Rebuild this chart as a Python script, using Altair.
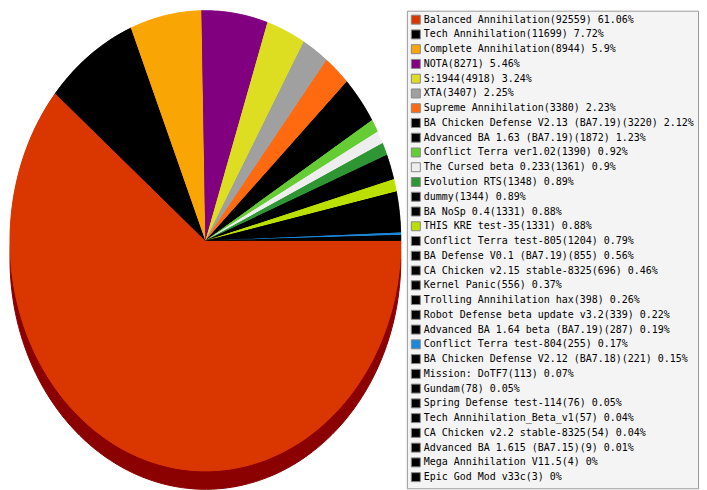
import altair as alt
import pandas as pd

names = [
    "Balanced Annihilation", "Tech Annihilation", "Complete Annihilation", "NOTA",
    "S:1944", "XTA", "Supreme Annihilation", "BA Chicken Defense V2.13 (BA7.19)",
    "Advanced BA 1.63 (BA7.19)", "Conflict Terra ver1.02", "The Cursed beta 0.233",
    "Evolution RTS", "dummy", "BA NoSp 0.4", "THIS KRE test-35", "Conflict Terra test-805",
    "BA Defense V0.1 (BA7.19)", "CA Chicken v2.15 stable-8325", "Kernel Panic",
    "Trolling Annihilation hax", "Robot Defense beta update v3.2",
    "Advanced BA 1.64 beta (BA7.19)", "Conflict Terra test-804",
    "BA Chicken Defense V2.12 (BA7.18)", "Mission: DoTF7", "Gundam",
    "Spring Defense test-114", "Tech Annihilation_Beta_v1", "CA Chicken v2.2 stable-8325",
    "Advanced BA 1.615 (BA7.15)", "Mega Annihilation V11.5", "Epic God Mod v33c",
]
values = [92559, 11699, 8944, 8271, 4918, 3407, 3380, 3220, 1872, 1390, 1361, 1348,
          1344, 1331, 1331, 1204, 855, 696, 556, 398, 339, 287, 255, 221, 113, 78, 76,
          57, 54, 9, 4, 3]
pcts = ["61.06", "7.72", "5.9", "5.46", "3.24", "2.25", "2.23", "2.12", "1.23", "0.92",
        "0.9", "0.89", "0.89", "0.88", "0.88", "0.79", "0.56", "0.46", "0.37", "0.26",
        "0.22", "0.19", "0.17", "0.15", "0.07", "0.05", "0.05", "0.04", "0.04", "0.01",
        "0", "0"]
colors = ["#D93600", "#000000", "#F9A605", "#800080", "#DDDD22", "#A0A0A0", "#FF6A10",
          "#000000", "#000000", "#66CC33", "#EEEEEE", "#2E9633", "#000000", "#000000",
          "#BBE000", "#000000", "#000000", "#000000", "#000000", "#000000", "#000000",
          "#000000", "#1B88D8", "#000000", "#000000", "#000000", "#000000", "#000000",
          "#000000", "#000000", "#000000", "#000000"]

labels = [f"{n}({v}) {p}%" for n, v, p in zip(names, values, pcts)]
df = pd.DataFrame({"idx": list(range(len(names))), "label": labels, "value": values})

N = 120
base = alt.Chart(df).transform_window(
    cum="sum(value)", sort=[alt.SortField("idx")], frame=[None, 0]
).transform_joinaggregate(
    total="sum(value)"
).transform_calculate(
    f0="(datum.cum - datum.value) / datum.total",
    f1="datum.cum / datum.total",
    pts=f"sequence(0, {N + 2})",
    slice="datum.label",
).transform_flatten(["pts"]).transform_calculate(
    a=f"datum.pts == 0 ? 0 : -2 * PI * (datum.f0 + (datum.pts - 1) / {N} * (datum.f1 - datum.f0))",
    r="datum.pts == 0 ? 0 : 1",
).transform_calculate(
    px="datum.r * cos(datum.a)",
    py="datum.r * sin(datum.a)",
).transform_calculate(
    pyd="datum.py - 0.08",
)

xs = alt.Scale(domain=[-1, 1], nice=False, zero=False)
ys = alt.Scale(domain=[-1.08, 1], nice=False, zero=False)
slice_scale = alt.Scale(domain=labels, range=colors)

depth = base.mark_line(filled=True, stroke="#8B0000", strokeWidth=1).encode(
    x=alt.X("px:Q", scale=xs, axis=None),
    y=alt.Y("pyd:Q", scale=ys, axis=None),
    order=alt.Order("pts:Q"),
    detail="label:N",
    color=alt.value("#8B0000"),
)

# underlay with strokes of each slice's own colour, to hide seams between slices
under = base.mark_line(filled=True, strokeWidth=1).encode(
    x=alt.X("px:Q", scale=xs, axis=None),
    y=alt.Y("py:Q", scale=ys, axis=None),
    order=alt.Order("pts:Q"),
    detail="slice:N",
    fill=alt.Fill("slice:N", scale=slice_scale, legend=None),
    stroke=alt.Stroke("slice:N", scale=slice_scale, legend=None),
)

face = base.mark_line(filled=True, strokeWidth=0).encode(
    x=alt.X("px:Q", scale=xs, axis=None),
    y=alt.Y("py:Q", scale=ys, axis=None),
    order=alt.Order("pts:Q"),
    detail="label:N",
    color=alt.Color(
        "label:N",
        scale=alt.Scale(domain=labels, range=colors),
        sort=labels,
        legend=alt.Legend(
            orient="none", legendX=398, legendY=0, title=None,
            symbolType="square", symbolSize=81,
            symbolStrokeColor="#888888", symbolStrokeWidth=1,
            labelFont="DejaVu Sans Mono", labelFontSize=10, labelColor="#000000",
            labelLimit=500, labelOffset=3, symbolOffset=0,
            fillColor="#F4F4F4", strokeColor="#999999",
            padding=4, rowPadding=0.8, symbolLimit=50,
        ),
    ),
)

chart = alt.layer(depth, under, face).resolve_scale(fill="independent", stroke="independent").properties(
    width=392, height=480, padding=0, background="#FFFFFF"
).configure_view(stroke=None)

chart.save("out.html", embed_options={"renderer": "svg", "actions": False})
